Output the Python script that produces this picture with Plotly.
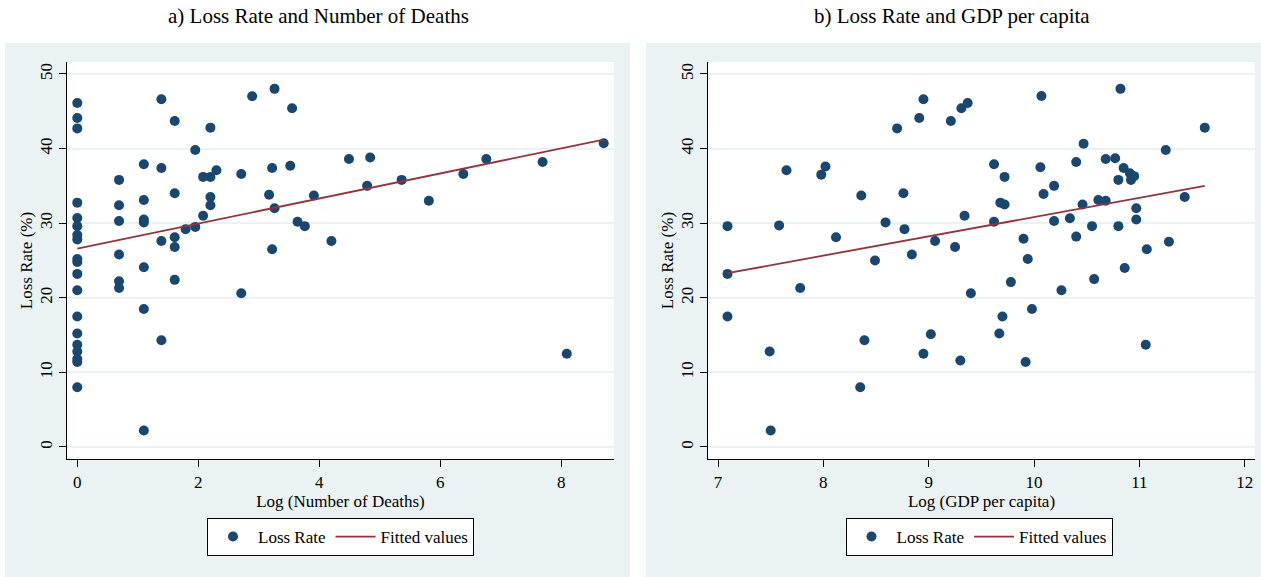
import plotly.graph_objects as go

# ---------------- data ----------------
# Panel a) : Log(Number of Deaths) vs Loss Rate (%)
deaths_log = [0, 0, 0, 0, 0, 0, 0, 0, 0, 0, 0, 0, 0, 0, 0, 0, 0, 0, 0,
              0.69, 0.69, 0.69, 0.69, 0.69, 0.69,
              1.10, 1.10, 1.10, 1.10, 1.10, 1.10, 1.10,
              1.39, 1.39, 1.39, 1.39,
              1.61, 1.61, 1.61, 1.61, 1.61,
              1.79, 1.95, 1.95, 2.08, 2.08,
              2.20, 2.20, 2.20, 2.20, 2.30,
              2.71, 2.71, 2.89, 3.17, 3.22, 3.22, 3.26, 3.26,
              3.52, 3.55, 3.64, 3.76, 3.91, 4.20, 4.49, 4.79, 4.84,
              5.36, 5.81, 6.38, 6.76, 7.69, 8.09, 8.70]
loss_a = [46.1, 44.1, 42.7, 32.75, 30.7, 29.6, 28.4, 27.8, 25.2, 24.8, 23.2, 21.0, 17.5, 15.2, 13.7, 12.8, 11.8, 11.4, 8.0,
          35.8, 32.4, 30.3, 25.8, 22.2, 21.3,
          37.9, 33.1, 30.5, 30.1, 24.1, 18.5, 2.2,
          46.6, 37.4, 27.6, 14.3,
          43.7, 34.0, 28.1, 26.8, 22.4,
          29.2, 39.8, 29.5, 36.2, 31.0,
          42.8, 36.2, 33.5, 32.4, 37.1,
          36.6, 20.6, 47.0, 33.8, 37.4, 26.5, 48.0, 32.0,
          37.7, 45.4, 30.2, 29.6, 33.7, 27.6, 38.6, 35.0, 38.8,
          35.8, 33.0, 36.6, 38.6, 38.2, 12.5, 40.7]
fit_a_x = [0.0, 8.70]
fit_a_y = [26.6, 41.2]

# Panel b) : Log(GDP per capita) vs Loss Rate (%)
gdp_log = [7.09, 7.09, 7.09, 7.49, 7.50, 7.58, 7.65, 7.78, 7.98, 8.02, 8.12,
           8.35, 8.36, 8.39, 8.49, 8.59, 8.70, 8.76, 8.77, 8.84, 8.91, 8.95, 8.95, 9.02, 9.06,
           9.21, 9.25, 9.30, 9.31, 9.34, 9.37, 9.40,
           9.62, 9.62, 9.67, 9.68, 9.70, 9.72, 9.72, 9.78, 9.90, 9.92, 9.94, 9.98,
           10.06, 10.07, 10.09, 10.19, 10.19, 10.26, 10.34, 10.40, 10.40, 10.46, 10.47,
           10.55, 10.57, 10.61, 10.68, 10.68, 10.77, 10.80, 10.80, 10.82, 10.85, 10.86,
           10.91, 10.92, 10.95, 10.97, 10.97,
           11.06, 11.07, 11.25, 11.28, 11.43, 11.62]
loss_b = [29.6, 23.2, 17.5, 12.8, 2.2, 29.7, 37.1, 21.3, 36.5, 37.6, 28.1,
          8.0, 33.7, 14.3, 25.0, 30.1, 42.7, 34.0, 29.2, 25.8, 44.1, 46.6, 12.5, 15.1, 27.6,
          43.7, 26.8, 11.6, 45.4, 31.0, 46.1, 20.6,
          37.9, 30.2, 15.2, 32.75, 17.5, 36.2, 32.5, 22.1, 27.9, 11.4, 25.2, 18.5,
          37.5, 47.05, 33.9, 35.0, 30.3, 21.0, 30.65, 28.2, 38.2, 32.5, 40.65,
          29.6, 22.5, 33.1, 33.0, 38.6, 38.7, 35.8, 29.6, 48.0, 37.4, 24.0,
          36.7, 35.8, 36.3, 32.0, 30.5,
          13.7, 26.5, 39.8, 27.5, 33.5, 42.8]
fit_b_x = [7.09, 11.62]
fit_b_y = [23.3, 35.0]

titles = ["a) Loss Rate and Number of Deaths", "b) Loss Rate and GDP per capita"]
x_titles = ["Log (Number of Deaths)", "Log (GDP per capita)"]
y_title = "Loss Rate (%)"
y_ticks = [0, 10, 20, 30, 40, 50]
xa_ticks = [0, 2, 4, 6, 8]
xb_ticks = [7, 8, 9, 10, 11, 12]

# ---------------- style ----------------
W, H = 1261, 577
NAVY = "#1a476f"
MAROON = "#90353b"
PANEL = "#eaf2f3"
GRID = "#eaf2f3"
FONT = "Liberation Serif"


def px_x(p):
    return p / W


def px_y(p):
    return 1 - p / H


fig = go.Figure()

fig.add_trace(go.Scatter(x=deaths_log, y=loss_a, mode="markers", name="Loss Rate",
                         marker=dict(color=NAVY, size=10), xaxis="x", yaxis="y", legend="legend"))
fig.add_trace(go.Scatter(x=fit_a_x, y=fit_a_y, mode="lines", name="Fitted values",
                         line=dict(color=MAROON, width=1.8), xaxis="x", yaxis="y", legend="legend"))
fig.add_trace(go.Scatter(x=gdp_log, y=loss_b, mode="markers", name="Loss Rate",
                         marker=dict(color=NAVY, size=10), xaxis="x2", yaxis="y2", legend="legend2"))
fig.add_trace(go.Scatter(x=fit_b_x, y=fit_b_y, mode="lines", name="Fitted values",
                         line=dict(color=MAROON, width=1.8), xaxis="x2", yaxis="y2", legend="legend2"))

# plot-area geometry (pixels)
A_L, A_R = 67, 614
B_L, B_R = 708, 1255
P_T, P_B = 62, 459

axis_common = dict(showline=True, linecolor="black", linewidth=1.3, ticks="outside",
                   ticklen=7, tickwidth=1.2, tickcolor="black", zeroline=False,
                   tickfont=dict(family=FONT, size=17, color="black"))

yaxis_common = dict(axis_common, tickvals=y_ticks, range=[-1.61, 51.6], showgrid=True,
                    gridcolor=GRID, gridwidth=2, tickangle=-90,
                    title=dict(text=y_title, font=dict(family=FONT, size=17, color="black"), standoff=0))

legend_common = dict(xanchor="center", y=px_y(537), yanchor="middle",
                     orientation="h", bgcolor="white", bordercolor="black", borderwidth=1,
                     itemwidth=40, font=dict(family=FONT, size=17, color="black"))

fig.update_layout(
    width=W, height=H, autosize=False,
    margin=dict(l=0, r=0, t=0, b=0),
    paper_bgcolor="white", plot_bgcolor="rgba(0,0,0,0)",
    xaxis=dict(axis_common, domain=[px_x(A_L), px_x(A_R)], range=[-0.17, 8.87],
               tickvals=xa_ticks, showgrid=False, anchor="y",
               title=dict(text=x_titles[0], font=dict(family=FONT, size=17, color="black"), standoff=1)),
    yaxis=dict(yaxis_common, domain=[px_y(P_B), px_y(P_T)], anchor="x"),
    xaxis2=dict(axis_common, domain=[px_x(B_L), px_x(B_R)], range=[6.905, 12.097],
                tickvals=xb_ticks, showgrid=False, anchor="y2",
                title=dict(text=x_titles[1], font=dict(family=FONT, size=17, color="black"), standoff=1)),
    yaxis2=dict(yaxis_common, domain=[px_y(P_B), px_y(P_T)], anchor="x2"),
    legend=dict(legend_common, x=px_x(340.5)),
    legend2=dict(legend_common, x=px_x(979)),
    showlegend=True,
)

shapes = [
    dict(type="rect", xref="paper", yref="paper", x0=px_x(5), x1=px_x(630), y0=0, y1=px_y(43),
         fillcolor=PANEL, line=dict(width=0), layer="below"),
    dict(type="rect", xref="paper", yref="paper", x0=px_x(646), x1=1, y0=0, y1=px_y(43),
         fillcolor=PANEL, line=dict(width=0), layer="below"),
    dict(type="rect", xref="paper", yref="paper", x0=px_x(A_L), x1=px_x(A_R), y0=px_y(P_B), y1=px_y(P_T),
         fillcolor="white", line=dict(width=0), layer="below"),
    dict(type="rect", xref="paper", yref="paper", x0=px_x(B_L), x1=px_x(B_R), y0=px_y(P_B), y1=px_y(P_T),
         fillcolor="white", line=dict(width=0), layer="below"),
]
fig.update_layout(shapes=shapes)

fig.add_annotation(text=titles[0], x=px_x(318), y=px_y(16), xref="paper", yref="paper",
                   xanchor="center", yanchor="middle",
                   showarrow=False, font=dict(family=FONT, size=21, color="black"))
fig.add_annotation(text=titles[1], x=px_x(952), y=px_y(16), xref="paper", yref="paper",
                   xanchor="center", yanchor="middle",
                   showarrow=False, font=dict(family=FONT, size=21, color="black"))

fig.write_html("out.html", config={"displayModeBar": False},
               post_script="document.body.style.margin='0';document.body.style.overflow='hidden';")
